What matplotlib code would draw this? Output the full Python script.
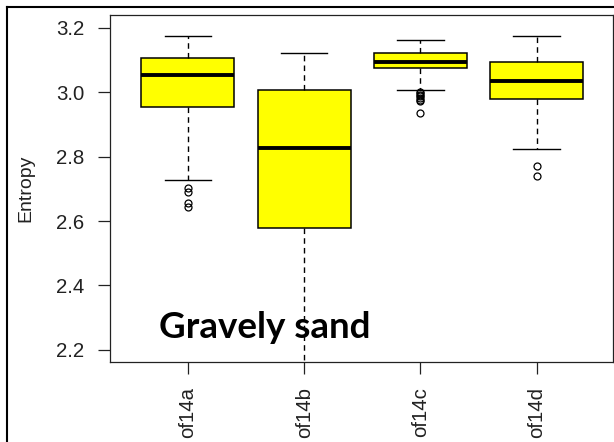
import matplotlib
matplotlib.use('Agg')
import matplotlib.pyplot as plt
from matplotlib.lines import Line2D

plt.rcParams['font.family'] = ['Liberation Sans', 'DejaVu Sans']

# ---- data ----
labels = ['of14a', 'of14b', 'of14c', 'of14d']
medians = [3.054, 2.828, 3.095, 3.034]
q1 = [2.953, 2.578, 3.075, 2.978]
q3 = [3.106, 3.006, 3.123, 3.094]
whislo = [2.727, 2.000, 3.006, 2.824]
whishi = [3.176, 3.123, 3.163, 3.176]
fliers = [
    [2.702, 2.690, 2.657, 2.644],
    [],
    [3.002, 2.997, 2.992, 2.987, 2.982, 2.977, 2.972, 2.935],
    [2.770, 2.739],
]
yticks = [2.2, 2.4, 2.6, 2.8, 3.0, 3.2]
ylabel = 'Entropy'
annotation = 'Gravely sand'

stats = [dict(label=l, med=m, q1=a, q3=b, whislo=lo, whishi=hi, fliers=f)
         for l, m, a, b, lo, hi, f in zip(labels, medians, q1, q3, whislo, whishi, fliers)]

W, H = 614, 442
fig = plt.figure(figsize=(W / 100, H / 100), dpi=100)
fig.patch.set_facecolor('white')

L, R, T, B = 110, 612.5, 15, 362.3
ax = fig.add_axes([L / W, 1 - B / H, (R - L) / W, (B - T) / H])

ax.bxp(stats, positions=[1, 2, 3, 4], widths=0.8, capwidths=0.4,
       patch_artist=True,
       boxprops=dict(facecolor='#ffff00', edgecolor='black', linewidth=1.1),
       medianprops=dict(color='black', linewidth=2.8, solid_capstyle='butt'),
       whiskerprops=dict(color='black', linewidth=1.0, linestyle=(0, (4, 3))),
       capprops=dict(color='black', linewidth=1.0),
       flierprops=dict(marker='o', markerfacecolor='none', markeredgecolor='black',
                       markersize=5, markeredgewidth=0.9))

ax.set_xlim(0.329, 4.654)
ax.set_ylim(2.1615, 3.240)
ax.set_yticks(yticks)
ax.set_yticklabels(['%.1f' % v for v in yticks])
ax.set_xticks([1, 2, 3, 4])
ax.set_xticklabels(labels, rotation=90)

for s in ax.spines.values():
    s.set_color('#222222')
    s.set_linewidth(0.9)

ax.tick_params(axis='y', length=8.6, width=0.9, pad=10, labelsize=14.7,
               color='#222222', labelcolor='#222222')
ax.tick_params(axis='x', length=8.6, width=0.9, pad=9.4, labelsize=14.7,
               color='#222222', labelcolor='#222222')

fig.text(26 / W, 1 - 188 / H, ylabel, rotation=90, ha='center', va='center',
         fontsize=14, color='#222222')

fig.text(159 / W, 1 - 338 / H, annotation, fontfamily=['Lato', 'DejaVu Sans'],
         fontweight='bold', fontsize=26.5, va='baseline', ha='left', color='black')

# outer frame (left and top)
fig.add_artist(Line2D([7 / W, 7 / W], [0, 1 - 7 / H], transform=fig.transFigure,
                      color='black', linewidth=1.5))
fig.add_artist(Line2D([7 / W, 1], [1 - 7 / H, 1 - 7 / H], transform=fig.transFigure,
                      color='black', linewidth=1.5))

fig.savefig('out.png', dpi=100)
